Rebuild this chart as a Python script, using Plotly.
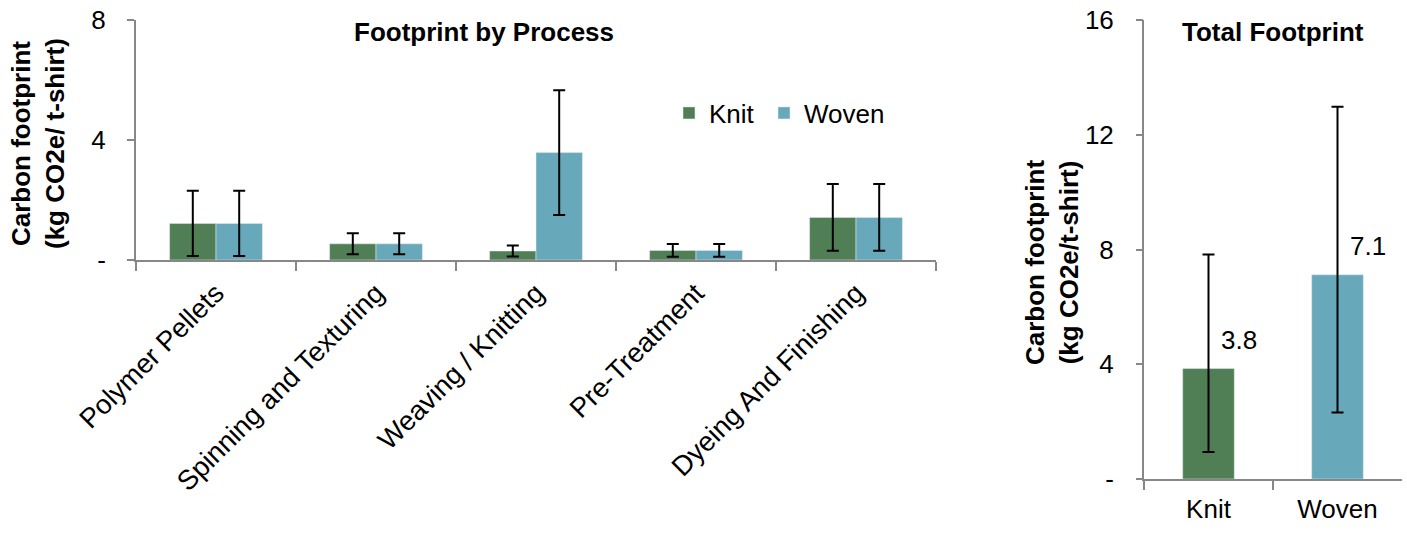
import plotly.graph_objects as go

processes = ["Polymer Pellets", "Spinning and Texturing", "Weaving / Knitting", "Pre-Treatment", "Dyeing And Finishing"]
knit_vals = [1.22, 0.54, 0.30, 0.32, 1.42]
knit_err = [1.09, 0.35, 0.18, 0.21, 1.11]
woven_vals = [1.22, 0.54, 3.58, 0.32, 1.42]
woven_err = [1.09, 0.35, 2.08, 0.21, 1.11]

total_cats = ["Knit", "Woven"]
total_vals = [3.85, 7.12]
total_err_plus = [3.98, 5.86]
total_err_minus = [2.91, 4.80]
total_labels = ["3.8", "7.1"]

left_ticks = [0, 4, 8]
left_ticktext = ["-", "4", "8"]
right_ticks = [0, 4, 8, 12, 16]
right_ticktext = ["-", "4", "8", "12", "16"]

KNIT = "#517F55"
WOVEN = "#67A8BA"
AX = "#878787"
FONT = "Liberation Sans, Arial, sans-serif"
FS = 26

fig = go.Figure()
fig.add_trace(go.Bar(
    x=processes, y=knit_vals, name="Knit", marker_color=KNIT, legend="legend",
    error_y=dict(type="data", array=knit_err, color="black", thickness=2, width=6),
    xaxis="x", yaxis="y"))
fig.add_trace(go.Bar(
    x=processes, y=woven_vals, name="Woven", marker_color=WOVEN, legend="legend2",
    error_y=dict(type="data", array=woven_err, color="black", thickness=2, width=6),
    xaxis="x", yaxis="y"))
fig.add_trace(go.Bar(
    x=total_cats, y=total_vals, marker_color=[KNIT, WOVEN], showlegend=False,
    error_y=dict(type="data", symmetric=False, array=total_err_plus, arrayminus=total_err_minus,
                 color="black", thickness=2, width=6),
    xaxis="x2", yaxis="y2", width=0.4))
# empty helper trace so the overlay axis carrying the short visible ticks is drawn
fig.add_trace(go.Scatter(x=total_cats, y=[None, None], xaxis="x2", yaxis="y3",
                         showlegend=False, hoverinfo="skip", mode="lines"))

annotations = []
for c, v, t in zip(total_cats, total_vals, total_labels):
    annotations.append(dict(x=c, y=v, xref="x2", yref="y2", text=t, showarrow=False,
                            xanchor="center", yanchor="middle",
                            xshift=30, yshift=29, font=dict(size=FS, color="black", family=FONT)))
annotations += [
    dict(text="<b>Footprint by Process</b>", x=484 / 1407, y=1 - 32 / 546, xref="paper", yref="paper",
         xanchor="center", yanchor="middle",
         showarrow=False, font=dict(size=FS, color="black", family=FONT)),
    dict(text="<b>Total Footprint</b>", x=1273 / 1407, y=1 - 32 / 546, xref="paper", yref="paper",
         xanchor="center", yanchor="middle",
         showarrow=False, font=dict(size=FS, color="black", family=FONT)),
    dict(text="<b>Carbon footprint<br>(kg CO2e/ t-shirt)</b>", x=38 / 1407, y=1 - 144 / 546,
         xref="paper", yref="paper", showarrow=False, textangle=-90,
         xanchor="center", yanchor="middle",
         font=dict(size=FS, color="black", family=FONT)),
    dict(text="<b>Carbon footprint<br>(kg CO2e/t-shirt)</b>", x=1052 / 1407, y=1 - 263 / 546,
         xref="paper", yref="paper", showarrow=False, textangle=-90,
         xanchor="center", yanchor="middle",
         font=dict(size=FS, color="black", family=FONT)),
]

leg_common = dict(orientation="h", xanchor="left", yanchor="middle",
                  font=dict(size=FS, color="black", family=FONT), bgcolor="rgba(0,0,0,0)",
                  itemwidth=30)

fig.update_layout(
    width=1407, height=546,
    margin=dict(l=0, r=0, t=0, b=0, autoexpand=False),
    paper_bgcolor="white", plot_bgcolor="white",
    barmode="group", bargap=0.42, bargroupgap=0,
    font=dict(family=FONT, color="black"),
    showlegend=True,
    legend=dict(x=669 / 1407, y=1 - 113 / 546, **leg_common),
    legend2=dict(x=764 / 1407, y=1 - 113 / 546, **leg_common),
    xaxis=dict(domain=[136 / 1407, 936 / 1407], anchor="y", type="category", automargin=False,
               showline=True, linecolor=AX, linewidth=2, showgrid=False,
               ticks="outside", tickson="boundaries", ticklen=9, tickcolor=AX, tickwidth=2,
               tickangle=-45, ticklabelstandoff=4,
               tickfont=dict(size=27.5, color="black", family=FONT)),
    yaxis=dict(domain=[1 - 260 / 546, 1 - 20 / 546], anchor="x", range=[0, 8], automargin=False,
               showline=True, linecolor=AX, linewidth=2, showgrid=False, zeroline=False,
               ticks="outside", ticklen=7, tickcolor=AX, tickwidth=2, ticklabelstandoff=16,
               tickvals=left_ticks, ticktext=left_ticktext,
               tickfont=dict(size=FS, color="black", family=FONT)),
    xaxis2=dict(domain=[1144 / 1407, 1402 / 1407], anchor="y2", type="category", automargin=False,
                showline=True, linecolor=AX, linewidth=2, showgrid=False,
                ticks="outside", tickson="boundaries", ticklen=9, tickcolor=AX, tickwidth=2,
                ticklabelstandoff=6,
                tickfont=dict(size=FS, color="black", family=FONT)),
    yaxis2=dict(domain=[1 - 479 / 546, 1 - 20 / 546], anchor="x2", range=[0, 16], automargin=False,
                showline=True, linecolor=AX, linewidth=2, showgrid=False, zeroline=False,
                ticks="outside", ticklen=23, tickcolor="rgba(0,0,0,0)", tickwidth=2,
                tickvals=right_ticks, ticktext=right_ticktext,
                tickfont=dict(size=FS, color="black", family=FONT)),
    yaxis3=dict(overlaying="y2", anchor="x2", side="left", range=[0, 16], automargin=False,
                showline=False, showgrid=False, zeroline=False, showticklabels=False,
                ticks="outside", ticklen=7, tickcolor=AX, tickwidth=2, tickvals=right_ticks),
    annotations=annotations,
)

fig.write_html("out.html")
